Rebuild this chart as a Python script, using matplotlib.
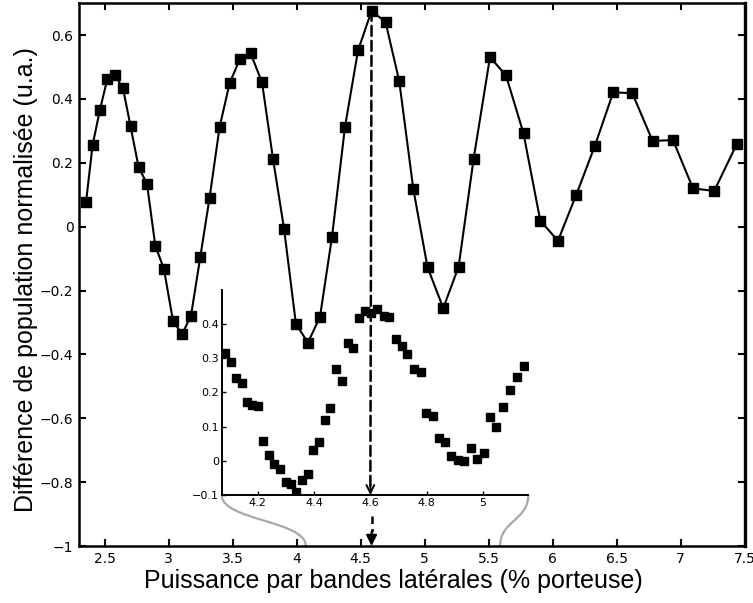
import numpy as np
import matplotlib.pyplot as plt
from matplotlib.path import Path
from matplotlib.patches import PathPatch, ConnectionPatch
from matplotlib.ticker import FuncFormatter

# courbe principale
puissance = [2.355, 2.406, 2.464, 2.521, 2.578, 2.644, 2.703, 2.766, 2.831, 2.896,
             2.964, 3.034, 3.105, 3.175, 3.248, 3.320, 3.398, 3.477, 3.558, 3.641,
             3.730, 3.816, 3.902, 3.995, 4.089, 4.183, 4.277, 4.378, 4.480, 4.586,
             4.695, 4.802, 4.912, 5.023, 5.146, 5.266, 5.383, 5.511, 5.636, 5.773,
             5.904, 6.042, 6.185, 6.331, 6.474, 6.623, 6.781, 6.941, 7.097, 7.263,
             7.438]
difference = [0.077, 0.255, 0.367, 0.462, 0.476, 0.433, 0.314, 0.186, 0.135, -0.059,
              -0.133, -0.294, -0.337, -0.279, -0.094, 0.090, 0.311, 0.450, 0.526, 0.543,
              0.452, 0.212, -0.006, -0.305, -0.363, -0.282, -0.031, 0.312, 0.552, 0.676,
              0.641, 0.456, 0.118, -0.127, -0.255, -0.125, 0.212, 0.531, 0.474, 0.292,
              0.019, -0.044, 0.100, 0.254, 0.421, 0.418, 0.269, 0.271, 0.120, 0.112,
              0.258]

# zoom (encart)
puissance_zoom = [4.084, 4.104, 4.122, 4.143, 4.162, 4.181, 4.200, 4.220, 4.239, 4.259,
                  4.278, 4.299, 4.317, 4.337, 4.356, 4.378, 4.398, 4.418, 4.438, 4.458,
                  4.478, 4.499, 4.520, 4.540, 4.561, 4.581, 4.601, 4.624, 4.649, 4.668,
                  4.691, 4.713, 4.731, 4.756, 4.779, 4.798, 4.822, 4.844, 4.865, 4.887,
                  4.910, 4.933, 4.957, 4.980, 5.004, 5.025, 5.048, 5.071, 5.096, 5.120,
                  5.145]
difference_zoom = [0.317, 0.288, 0.241, 0.227, 0.171, 0.162, 0.160, 0.058, 0.016, -0.008,
                   -0.025, -0.061, -0.068, -0.092, -0.055, -0.038, 0.031, 0.054, 0.120, 0.156,
                   0.269, 0.235, 0.345, 0.330, 0.419, 0.438, 0.433, 0.444, 0.424, 0.421,
                   0.358, 0.335, 0.314, 0.269, 0.259, 0.140, 0.131, 0.068, 0.055, 0.014,
                   0.003, 0.000, 0.039, 0.004, 0.022, 0.128, 0.099, 0.158, 0.206, 0.244,
                   0.278]

xticks_main = [2.5, 3, 3.5, 4, 4.5, 5, 5.5, 6, 6.5, 7, 7.5]
yticks_main = [-1, -0.8, -0.6, -0.4, -0.2, 0, 0.2, 0.4, 0.6]
xticks_zoom = [4.2, 4.4, 4.6, 4.8, 5]
yticks_zoom = [-0.1, 0, 0.1, 0.2, 0.3, 0.4]
x_fleche = 4.6
fin_zoom_droite = 5.59


def fmt(v, pos):
    return ('%g' % round(v, 6)).replace('-', '\u2212')


fig = plt.figure(figsize=(7.53, 6.03), dpi=100)
ax = fig.add_axes([0.1049, 0.0945, 0.8839, 0.9002])
ax.plot(puissance, difference, 'k-s', lw=1.5, ms=7)
ax.set_xlim(2.3, 7.5)
ax.set_ylim(-1, 0.7)
ax.set_xticks(xticks_main)
ax.set_yticks(yticks_main)
ax.xaxis.set_major_formatter(FuncFormatter(fmt))
ax.yaxis.set_major_formatter(FuncFormatter(fmt))
ax.tick_params(direction='in', length=5, width=1.5, top=True, right=True,
               labelsize=10, pad=4)
for s in ax.spines.values():
    s.set_linewidth(1.8)
ax.spines['right'].set_linewidth(2.4)
ax.set_xlabel('Puissance par bandes latérales (% porteuse)',
              family='Liberation Sans', fontsize=18)
ax.set_ylabel('Différence de population normalisée (u.a.)',
              family='Liberation Sans', fontsize=18)
ax.xaxis.set_label_coords(0.473, -0.042)
ax.yaxis.set_label_coords(-0.062, 0.49)

# encart
axin = fig.add_axes([0.2944, 0.1791, 0.4072, 0.34])
axin.patch.set_alpha(0)
axin.plot(puissance_zoom, difference_zoom, 'ks', ms=6, ls='none')
axin.set_xlim(4.072, 5.161)
axin.set_ylim(-0.1, 0.5)
axin.set_xticks(xticks_zoom)
axin.set_yticks(yticks_zoom)
axin.xaxis.set_major_formatter(FuncFormatter(fmt))
axin.yaxis.set_major_formatter(FuncFormatter(fmt))
axin.spines['top'].set_visible(False)
axin.spines['right'].set_visible(False)
axin.spines['left'].set_linewidth(1.4)
axin.spines['bottom'].set_linewidth(1.4)
axin.tick_params(direction='in', length=3, width=1, labelsize=8, pad=2)

# ligne pointillee du pic vers l'encart
i_pic = int(np.argmax(difference))
x_pic, y_pic = puissance[i_pic], difference[i_pic]
con = ConnectionPatch(xyA=(x_pic, y_pic), coordsA=ax.transData,
                      xyB=(x_fleche, -0.08), coordsB=axin.transData,
                      ls=(0, (4, 2)), lw=1.8, color='k')
fig.add_artist(con)
axin.annotate('', xy=(x_fleche, -0.1), xytext=(x_fleche, -0.07),
              arrowprops=dict(arrowstyle='->', lw=1.4, color='k',
                              mutation_scale=14, shrinkA=0, shrinkB=0),
              annotation_clip=False)

# fleche vers l'axe principal
ax.plot([x_pic, x_pic], [-0.905, -0.955], 'k', lw=1.8, ls=(0, (3, 2)))
ax.annotate('', xy=(x_pic, -1), xytext=(x_pic, -0.955),
            arrowprops=dict(arrowstyle='-|>', lw=1.5, color='k',
                            mutation_scale=16, shrinkA=0, shrinkB=0),
            annotation_clip=False)

# courbes grises reliant l'encart a l'axe
to_main = axin.transAxes + ax.transData.inverted()
x0g, y0g = to_main.transform((0, 0))
x0d, y0d = to_main.transform((1, 0))
y_bas = ax.get_ylim()[0]
for xa, ya, xb in [(x0g, y0g, axin.get_xlim()[0]), (x0d, y0d, fin_zoom_droite)]:
    ym = (ya + y_bas) / 2
    verts = [(xa, ya), (xa, ym), (xb, ym), (xb, y_bas)]
    codes = [Path.MOVETO, Path.CURVE4, Path.CURVE4, Path.CURVE4]
    ax.add_patch(PathPatch(Path(verts, codes), fc='none', ec='#a8a8a8', lw=1.6))

fig.savefig('out.png', dpi=100)
